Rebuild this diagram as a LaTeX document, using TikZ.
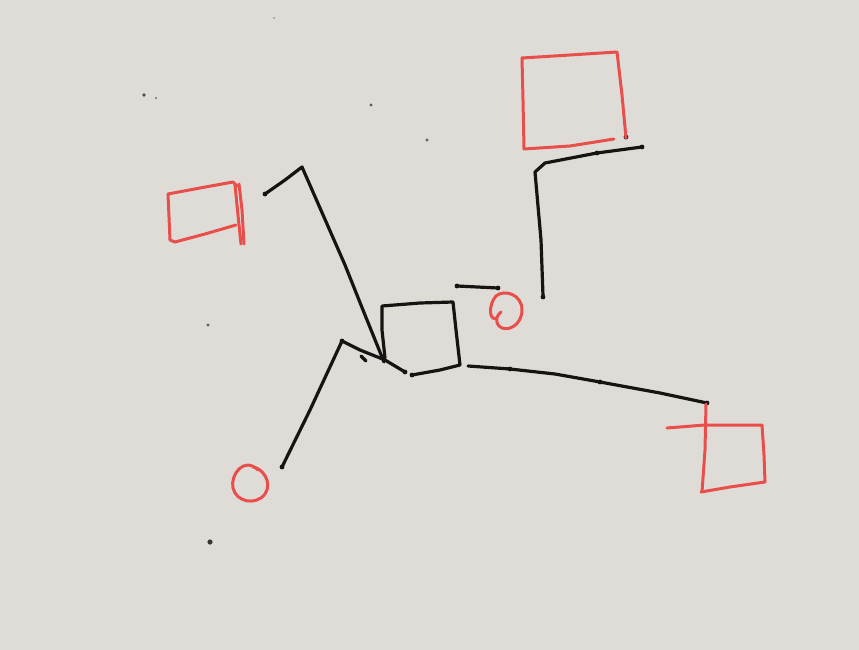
\documentclass[tikz,border=0pt]{standalone}
\definecolor{paper}{RGB}{223,220,215}
\definecolor{ink}{RGB}{22,20,18}
\definecolor{redink}{RGB}{232,78,74}
\tikzset{
  blk/.style={draw=ink, line width=3.2pt, line cap=round, line join=round},
  red/.style={draw=redink, line width=3pt, line cap=round, line join=round},
  knot/.style={fill=ink},
}
\begin{document}
\begin{tikzpicture}[x=1pt,y=-1pt]
\fill[paper] (0,0) rectangle (859,650);
\useasboundingbox (0,0) rectangle (859,650);
% named points
\coordinate (sqTL) at (382,306);
\coordinate (sqTR) at (453,302);
\coordinate (sqBR) at (460,365);
\coordinate (sqBL) at (412,375);
\coordinate (hub) at (384,362);
% central square
\draw[blk] (385,358) -- (382,330) -- (sqTL) -- (420,303) -- (sqTR) -- (456,330) -- (sqBR) -- (440,370) -- (sqBL);
% upper left polyline
\coordinate (ulA) at (265,194);
\coordinate (ulB) at (302,167);
\draw[blk] (ulA) -- (285,180) -- (ulB) -- (320,208) -- (345,265) -- (365,315) -- (hub);
% lower left polyline
\coordinate (llA) at (282,467);
\coordinate (llB) at (342,341);
\coordinate (llC) at (405,372);
\draw[blk] (llA) -- (310,410) -- (llB) -- (360,350) -- (385,360) -- (llC);
\draw[blk] (361,356) -- (366,361);
% right line
\coordinate (rA) at (468,366);
\coordinate (rB) at (707,403);
\draw[blk] (rA) -- (510,369) -- (555,374) -- (600,382) -- (660,393) -- (rB);
% top right polyline
\coordinate (trA) at (543,296);
\coordinate (trB) at (642,147);
\draw[blk] (trA) -- (541,240) -- (535,172) -- (545,163) -- (597,153) -- (trB);
% short line
\coordinate (sA) at (457,286);
\coordinate (sB) at (498,288);
\draw[blk] (sA) -- (sB);
% pen dots along the black lines
\foreach \p in {(626,137),(543,297),(282,467),(642,147),(457,286),(498,288),(412,375),(405,372),(265,194),(707,403),(597,153),(510,369),(600,382),(342,341)}
  \fill[knot] \p circle (2.4);
% red top-right square
\draw[red] (522,58) -- (570,55) -- (617,52) -- (622,95) -- (626,138);
\draw[red] (522,58) -- (523,100) -- (524,149) -- (570,146) -- (614,139);
% red left square
\draw[red] (168,194) -- (200,188) -- (233,182) -- (237,186);
\draw[red] (168,194) -- (170,240) -- (175,242) -- (205,234) -- (236,225);
\draw[red] (235,185) -- (238,215) -- (241,244);
\draw[red] (239,184) -- (242,210) -- (244,244);
% red spiral near centre
\draw[red] (497,318) .. controls (489,322) and (488,305) .. (496,296)
  .. controls (504,289) and (522,294) .. (522,310)
  .. controls (522,326) and (506,333) .. (499,326)
  .. controls (494,320) and (498,314) .. (501,312);
% red circle bottom left
\draw[red] (258,470) .. controls (244,456) and (230,475) .. (233,488)
  .. controls (236,502) and (256,506) .. (265,494)
  .. controls (273,482) and (262,468) .. (253,467);
% red square bottom right
\draw[red] (667,428) -- (705,425) -- (762,425) -- (764,455) -- (765,482) -- (730,487) -- (701,492);
\draw[red] (706,404) -- (705,450) -- (702,492);
% specks
\fill[ink!75] (144,95) circle (1.8);
\fill[ink!60] (156,98) circle (1.2);
\fill[ink!70] (371,105) circle (1.6);
\fill[ink!70] (427,140) circle (1.7);
\fill[ink!70] (208,325) circle (1.7);
\fill[ink!85] (210,542) circle (2.6);
\fill[ink!40] (274,18) circle (1.1);
\end{tikzpicture}
\end{document}
